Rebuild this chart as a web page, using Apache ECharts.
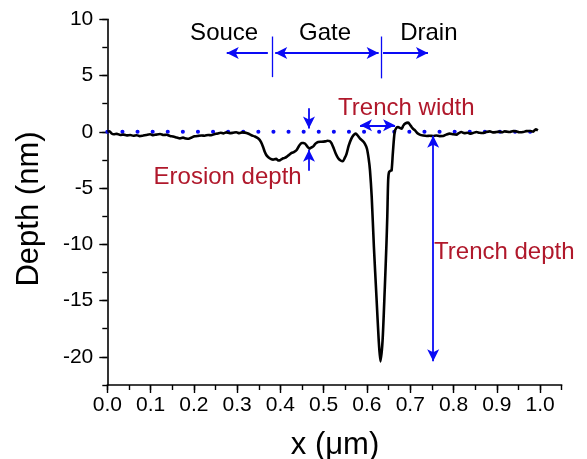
<!DOCTYPE html>
<html>
<head>
<meta charset="utf-8">
<script src="https://cdn.jsdelivr.net/npm/echarts@6/dist/echarts.min.js"></script>
<style>
html,body{margin:0;padding:0;background:#fff;}
#chart{width:587px;height:459px;}
</style>
</head>
<body>
<div id="chart"></div>
<script>
// ---- profile data (x in µm, depth in nm) ----
var profileX = [0.000,0.005,0.010,0.015,0.022,0.030,0.038,0.045,0.053,0.060,0.068,0.075,0.083,0.090,0.099,0.106,0.113,0.122,0.130,0.137,0.145,0.152,0.160,0.168,0.175,0.182,0.188,0.195,0.202,0.210,0.218,0.225,0.233,0.240,0.247,0.255,0.262,0.268,0.275,0.283,0.291,0.298,0.305,0.312,0.318,0.325,0.333,0.341,0.349,0.355,0.360,0.364,0.368,0.375,0.383,0.390,0.395,0.399,0.404,0.410,0.415,0.420,0.426,0.431,0.437,0.443,0.449,0.453,0.457,0.462,0.467,0.471,0.476,0.481,0.487,0.495,0.503,0.509,0.514,0.518,0.522,0.528,0.534,0.539,0.544,0.549,0.553,0.558,0.564,0.569,0.574,0.579,0.584,0.590,0.595,0.600,0.604,0.607,0.611,0.616,0.622,0.627,0.631,0.636,0.641,0.645,0.647,0.649,0.651,0.655,0.657,0.660,0.664,0.668,0.672,0.676,0.680,0.684,0.688,0.695,0.700,0.703,0.707,0.711,0.716,0.722,0.730,0.738,0.745,0.753,0.760,0.768,0.776,0.783,0.791,0.799,0.807,0.812,0.818,0.825,0.832,0.838,0.845,0.853,0.860,0.868,0.875,0.884,0.891,0.899,0.906,0.912,0.918,0.925,0.930,0.938,0.945,0.952,0.961,0.968,0.976,0.984,0.990,0.995];
var profileDepth = [0.02,0.05,-0.15,-0.22,-0.18,-0.28,-0.25,-0.32,-0.28,-0.35,-0.30,-0.38,-0.33,-0.28,-0.22,-0.30,-0.25,-0.20,-0.28,-0.26,-0.37,-0.42,-0.50,-0.58,-0.52,-0.60,-0.62,-0.50,-0.40,-0.36,-0.33,-0.35,-0.28,-0.30,-0.22,-0.15,-0.08,-0.14,-0.05,-0.12,-0.08,-0.04,-0.12,-0.05,-0.07,-0.15,-0.31,-0.42,-0.60,-0.90,-1.35,-1.80,-2.09,-2.35,-2.47,-2.40,-2.55,-2.53,-2.40,-2.32,-2.20,-2.05,-1.88,-1.80,-1.64,-1.25,-0.99,-1.00,-1.05,-1.30,-1.49,-1.40,-1.29,-1.05,-0.90,-0.88,-0.85,-0.80,-0.82,-1.00,-1.35,-1.95,-2.38,-2.55,-2.62,-2.30,-1.93,-1.20,-0.60,-0.30,-0.16,-0.35,-0.60,-0.80,-1.05,-1.50,-2.40,-3.42,-5.79,-10.2,-14.7,-18.4,-20.4,-18.6,-14.1,-10.0,-7.5,-4.3,-3.57,-3.45,-3.42,-1.8,-0.02,0.35,0.43,0.35,0.28,0.55,0.73,0.82,0.60,0.43,0.25,0.13,-0.10,-0.25,-0.33,-0.37,-0.35,-0.37,-0.33,-0.38,-0.37,-0.25,-0.16,-0.22,-0.25,-0.12,-0.02,-0.12,-0.08,-0.16,-0.10,-0.02,-0.08,-0.10,-0.02,0.04,-0.05,-0.02,0.02,-0.04,0.04,0.00,-0.02,0.06,0.04,-0.04,-0.02,0.06,0.07,0.02,0.22,0.13];

// reference (surface) level
var refLineX = [0.0, 1.0];
var refLineY = [0, 0];

// axis tick labels
var xTickLabels = ['0.0','0.1','0.2','0.3','0.4','0.5','0.6','0.7','0.8','0.9','1.0'];
var yTickLabels = ['10','5','0','-5','-10','-15','-20'];
var xTitle = 'x (\u03bcm)';
var yTitle = 'Depth (nm)';

// annotation arrows in data coordinates: [x1,y1,x2,y2, startArrow, endArrow]
var arrowSegs = [
  [0.371, 7.0, 0.276, 7.0, false, true],   // Souce
  [0.388, 7.0, 0.627, 7.0, true, true],    // Gate
  [0.637, 7.0, 0.741, 7.0, false, true],   // Drain
  [0.584, 0.58, 0.665, 0.58, true, true],  // Trench width
  [0.466, 2.1, 0.466, 0.3, false, true],   // Erosion depth (top)
  [0.466, -3.45, 0.466, -1.6, false, true],// Erosion depth (bottom)
  [0.753, -0.35, 0.753, -20.4, true, true] // Trench depth
];
// separator lines
var sepLines = [
  [0.382, 8.47, 0.382, 4.86],
  [0.634, 8.47, 0.634, 4.75]
];
// annotation texts: [text, x, y, kind, align]
var annoTexts = [
  ['Souce', 0.270, 8.74, 'black', 'center'],
  ['Gate', 0.503, 8.74, 'black', 'center'],
  ['Drain', 0.743, 8.74, 'black', 'center'],
  ['Trench width', 0.691, 2.09, 'red', 'center'],
  ['Erosion depth', 0.278, -4.04, 'red', 'center'],
  ['Trench depth', 0.755, -10.7, 'red', 'left']
];

var FONT = '"Liberation Sans", Arial, sans-serif';
var BLUE = '#0A0AF5';
var RED = '#B0182B';

var chart = echarts.init(document.getElementById('chart'), null, {renderer:'canvas'});

var L = 107.3, T = 19.3, B = 74, R = 25.3;

var markData = arrowSegs.map(function(s){
  return [
    {coord:[s[0], s[1]], symbol: s[4] ? 'arrow' : 'none'},
    {coord:[s[2], s[3]], symbol: s[5] ? 'arrow' : 'none'}
  ];
});
var sepData = sepLines.map(function(s){
  return [{coord:[s[0], s[1]], symbol:'none'}, {coord:[s[2], s[3]], symbol:'none'}];
});

var option = {
  animation: false,
  backgroundColor: '#fff',
  grid: [
    {left: L, right: R, top: T, bottom: B},
    {left: L, right: R, top: T, bottom: 459 - (T + 30 * ((459 - B - T) / 32.5))},
    {left: L, right: 587 - (L + 1.0 * ((587 - R - L) / 1.05)), top: T, bottom: B}
  ],
  graphic: [
    {type:'text', x: 29, y: 209, rotation: Math.PI/2, silent:true,
     style:{text: yTitle, font: '31px ' + FONT, fill:'#000', align:'center', verticalAlign:'middle'}},
    {type:'text', x: 335, y: 445, silent:true,
     style:{text: xTitle, font: '31px ' + FONT, fill:'#000', align:'center', verticalAlign:'middle'}}
  ],
  xAxis: [
    {gridIndex:0, type:'value', min:0, max:1.05, interval:0.05,
     axisLine:{show:true, onZero:false, lineStyle:{color:'#000', width:1.6}},
     axisTick:{show:true, inside:false, length:5, lineStyle:{color:'#000', width:1.4}},
     axisLabel:{show:false}, splitLine:{show:false}},
    {gridIndex:1, type:'value', min:0, max:1.05, show:false},
    {gridIndex:2, type:'value', min:0, max:1.0, interval:0.1,
     axisLine:{show:false, onZero:false},
     axisTick:{show:true, inside:false, length:8, lineStyle:{color:'#000', width:1.4}},
     axisLabel:{show:true, margin:10, fontFamily:FONT, fontSize:21, color:'#000',
       formatter:function(v){ var i = Math.round(v*10); return xTickLabels[i] || ''; }},
     splitLine:{show:false}}
  ],
  yAxis: [
    {gridIndex:0, type:'value', min:-22.5, max:10, interval:2.5,
     axisLine:{show:true, onZero:false, lineStyle:{color:'#000', width:1.6}},
     axisTick:{show:true, inside:false, length:5, lineStyle:{color:'#000', width:1.4}},
     axisLabel:{show:false}, splitLine:{show:false}},
    {gridIndex:1, type:'value', min:-20, max:10, interval:5,
     axisLine:{show:false, onZero:false},
     axisTick:{show:true, inside:false, length:8, lineStyle:{color:'#000', width:1.4}},
     axisLabel:{show:true, margin:14, fontFamily:FONT, fontSize:21, color:'#000',
       formatter:function(v){ var i = Math.round((10 - v)/5); return yTickLabels[i] || ''; }},
     splitLine:{show:false}},
    {gridIndex:2, type:'value', min:-22.5, max:10, show:false}
  ],
  series: [
    {
      type:'line', xAxisIndex:0, yAxisIndex:0, silent:true,
      data: refLineX.map(function(x,i){ return [x, refLineY[i]]; }),
      showSymbol:false, symbol:'none',
      lineStyle:{color:BLUE, width:4, type:[0.1, 15], cap:'round'},
      z:3,
      markLine:{
        silent:true, symbol:['none','arrow'], symbolSize:[9,12], precision:4,
        label:{show:false}, animation:false,
        lineStyle:{color:BLUE, width:1.8, type:'solid'},
        emphasis:{disabled:true},
        data: markData
      }
    },
    {
      type:'line', xAxisIndex:0, yAxisIndex:0, silent:true,
      data: [[0,0]], showSymbol:false, symbol:'none', lineStyle:{opacity:0},
      markLine:{
        silent:true, symbol:['none','none'], label:{show:false}, animation:false,
        lineStyle:{color:BLUE, width:1.3, type:'solid'},
        emphasis:{disabled:true},
        data: sepData
      }
    },
    {
      type:'line', xAxisIndex:0, yAxisIndex:0, silent:true,
      data: profileX.map(function(x,i){ return [x, profileDepth[i]]; }),
      showSymbol:false, symbol:'none', smooth:0.25,
      lineStyle:{color:'#000', width:2.6}, z:4
    },
    {
      type:'scatter', xAxisIndex:0, yAxisIndex:0, silent:true, clip:false,
      symbolSize:0,
      data: annoTexts.map(function(a){
        return {value:[a[1], a[2]], label:{show:true, position:'inside', formatter:a[0],
          fontFamily:FONT, fontSize:24, color: a[3]==='red' ? RED : '#000',
          textBorderWidth:0, textShadowBlur:0, opacity:1,
          align:a[4], verticalAlign:'middle'}};
      }),
      z:5
    }
  ]
};
chart.setOption(option);
</script>
</body>
</html>
